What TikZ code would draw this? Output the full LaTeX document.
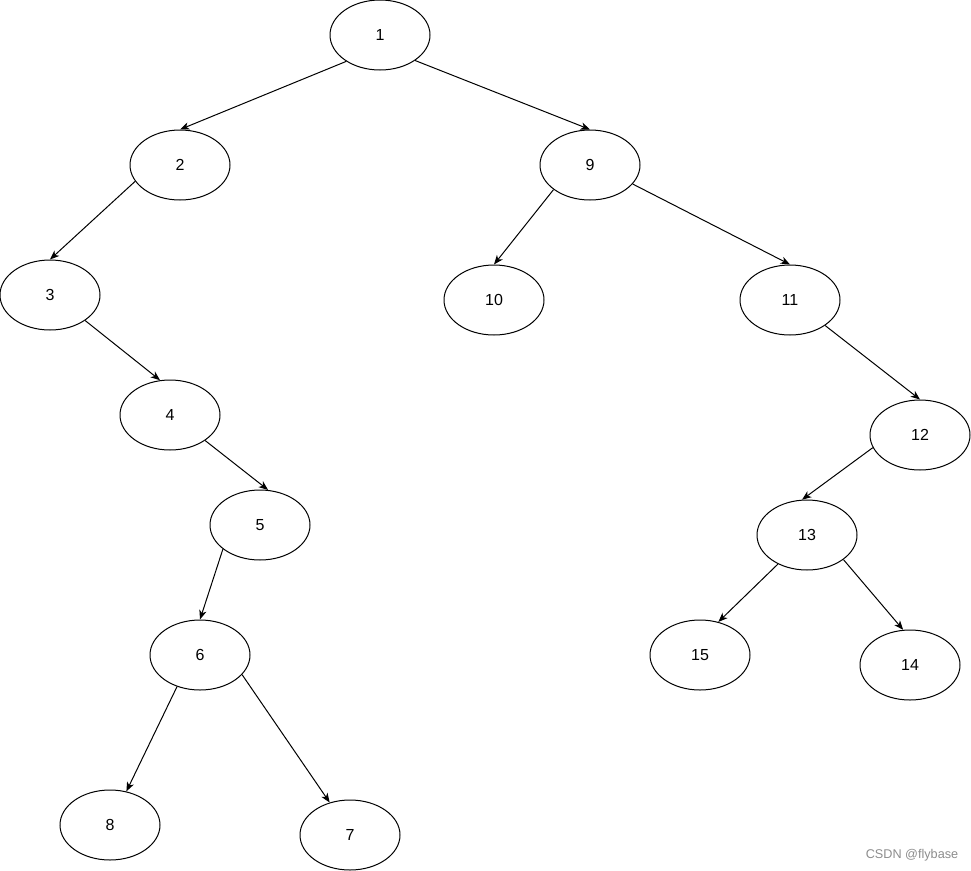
\documentclass[tikz,border=0pt]{standalone}
\usepackage{fontspec}
\setmainfont{Liberation Sans}
\usetikzlibrary{shapes.geometric,arrows.meta}
\tikzset{
  vert/.style={draw,ellipse,line width=0.75pt,minimum width=75pt,minimum height=52.5pt,inner sep=0pt,font=\fontsize{12pt}{14pt}\selectfont},
  edge/.style={line width=0.75pt,-{Stealth[length=7pt,width=5.5pt,inset=2pt]}}
}
\begin{document}
\begin{tikzpicture}[x=0.75pt,y=-0.75pt]
  \useasboundingbox (0,0) rectangle (971,871);
  \node[vert] (n1) at (380,35) {1};
  \node[vert] (n2) at (180,165) {2};\node[vert] (n9) at (590,165) {9};
  \node[vert] (n3) at (50,295) {3};\node[vert] (n10) at (494,300) {10};\node[vert] (n11) at (790,300) {11};
  \node[vert] (n4) at (170,415) {4};\node[vert] (n12) at (920,435) {12};
  \node[vert] (n5) at (260,525) {5};\node[vert] (n13) at (807,535) {13};
  \node[vert] (n6) at (200,655) {6};\node[vert] (n15) at (700,655) {15};\node[vert] (n14) at (910,665) {14};
  \node[vert] (n8) at (110,825) {8};\node[vert] (n7) at (350,835) {7};

  \draw[edge] (n1.218) -- (n2.north);
  \draw[edge] (n1.324) -- (n9.north);
  \draw[edge] (n2.200) -- (n3.north);
  \draw[edge] (n3.324) -- (n4.106);
  \draw[edge] (n4.324) -- (n5.77);
  \draw[edge] (n5.213) -- (n6.north);
  \draw[edge] (n6.234) -- (n8.64);
  \draw[edge] (n6.335) -- (n7.122);
  \draw[edge] (n9.214) -- (n10.north);
  \draw[edge] (n9.336) -- (n11.north);
  \draw[edge] (n11.324) -- (n12.north);
  \draw[edge] (n12.195) -- (n13.98);
  \draw[edge] (n13.225) -- (n15.61);
  \draw[edge] (n13.326) -- (n14.101);

  \node[text=black!45,font=\fontsize{9.5pt}{11pt}\selectfont] (mark) at (912,855) {CSDN @flybase};
\end{tikzpicture}
\end{document}
